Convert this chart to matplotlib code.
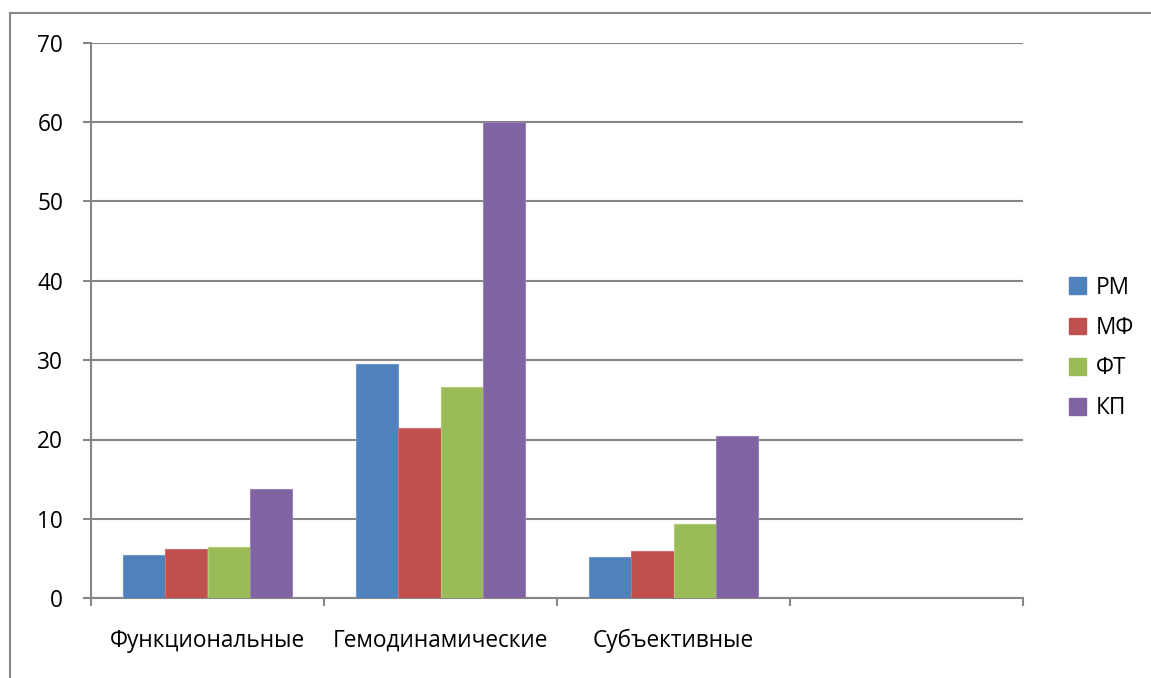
import matplotlib.pyplot as plt
import numpy as np
from matplotlib.lines import Line2D
from matplotlib.patches import Patch

# Indicator groups and values per method
categories = ["Функциональные", "Гемодинамические", "Субъективные", ""]
series_names = ["РМ", "МФ", "ФТ", "КП"]
rm_vals = [5.4, 29.5, 5.2, None]
mf_vals = [6.2, 21.4, 5.9, None]
ft_vals = [6.5, 26.6, 9.3, None]
kp_vals = [13.8, 60.0, 20.4, None]
y_ticks = [0, 10, 20, 30, 40, 50, 60, 70]

colors = ["#4F81BD", "#C0504D", "#9BBB59", "#8064A2"]
edge_colors = ["#6E97CC", "#CF6E6B", "#AFCB73", "#9A82B8"]
grid_color = "#868686"
fs = 16.3

plt.rcParams['font.family'] = ['Open Sans', 'DejaVu Sans']

fig = plt.figure(figsize=(11.51, 6.78), dpi=100)
ax = fig.add_axes([91 / 1151, 1 - 598.3 / 678, (1023 - 91) / 1151, (598.3 - 42.5) / 678])

all_series = [rm_vals, mf_vals, ft_vals, kp_vals]
n = len(all_series)
slot = np.arange(len(categories)) + 0.5
bar_w = 1 / (n + 1.5)

for i, (vals, name) in enumerate(zip(all_series, series_names)):
    xs = [slot[j] + (i - (n - 1) / 2) * bar_w for j, v in enumerate(vals) if v is not None]
    hs = [v for v in vals if v is not None]
    ax.bar(xs, hs, width=bar_w, color=colors[i], edgecolor=edge_colors[i],
           linewidth=0.8, label=name, zorder=3)

ax.set_xlim(0, len(categories))
ax.set_ylim(0, 70)
ax.set_yticks(y_ticks)
ax.set_yticklabels([str(t) for t in y_ticks])
ax.yaxis.grid(True, color=grid_color, linewidth=1.5, zorder=1)

# category boundaries carry the ticks, labels sit at the centres
ax.set_xticks(np.arange(len(categories) + 1))
ax.set_xticklabels([])
ax.set_xticks(slot, minor=True)
ax.set_xticklabels(categories, minor=True)
ax.tick_params(axis='x', which='major', direction='out', length=6, width=1.5, color=grid_color)
ax.tick_params(axis='x', which='minor', length=0, pad=22, labelsize=fs)
ax.tick_params(axis='y', direction='out', length=6, width=1.5, color=grid_color, pad=14, labelsize=fs)

for s in ['top', 'right']:
    ax.spines[s].set_visible(False)
for s in ['left', 'bottom']:
    ax.spines[s].set_color(grid_color)
    ax.spines[s].set_linewidth(1.5)

handles = [Patch(facecolor=c, edgecolor=c) for c in colors]
fig.legend(handles, series_names, loc='center left', bbox_to_anchor=(1049 / 1151, 1 - 348 / 678),
           frameon=False, fontsize=fs, handlelength=0.75, handleheight=0.75,
           handletextpad=0.4, labelspacing=0.72)

# outer chart-area border (left and top edges)
fig.add_artist(Line2D([10 / 1151, 10 / 1151], [0, 1 - 13 / 678], color=grid_color, linewidth=1.5))
fig.add_artist(Line2D([10 / 1151, 1], [1 - 13 / 678, 1 - 13 / 678], color=grid_color, linewidth=1.5))

fig.savefig("out.png", dpi=100)
